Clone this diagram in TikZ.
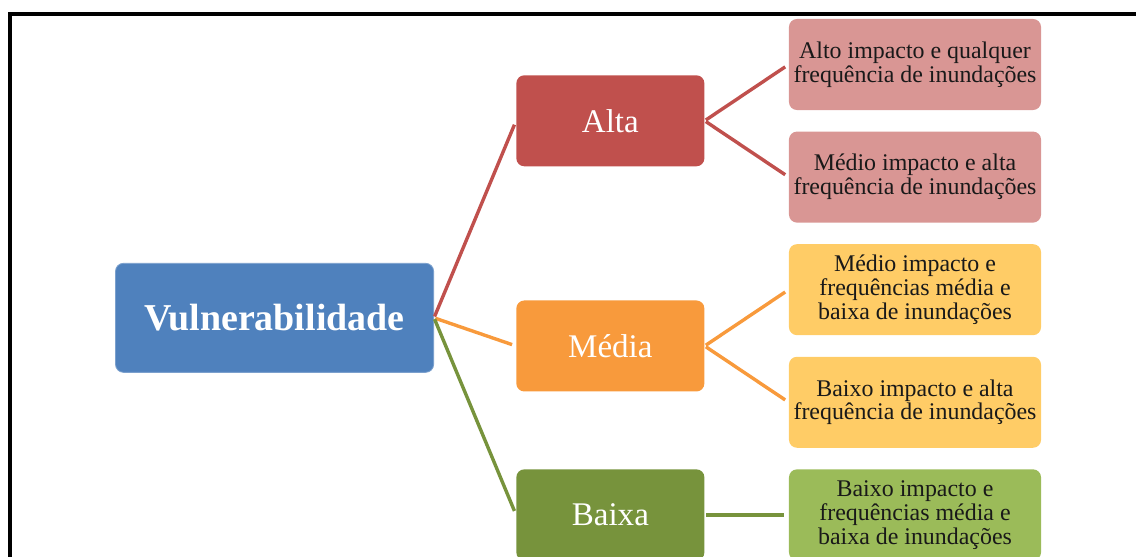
\documentclass[tikz,border=0pt]{standalone}
\usepackage{fontspec}
\setmainfont{Liberation Serif}
\usepackage{xcolor}
\usepackage{tikz}
\usetikzlibrary{positioning, calc}
\definecolor{vulblue}{HTML}{4F81BD}
\definecolor{altared}{HTML}{C0504D}
\definecolor{altaleaf}{HTML}{D99694}
\definecolor{mediaorange}{HTML}{F89A3C}
\definecolor{medialeaf}{HTML}{FFCC66}
\definecolor{baixagreen}{HTML}{77933C}
\definecolor{baixaleaf}{HTML}{9BBB59}
\tikzset{
    vulnmap/.style={x=0.025cm, y=-0.025cm, node distance=0.525cm and 2.1cm},
    rootbox/.style={fill=vulblue, draw=vulblue!75!white, line width=0.6pt, rounded corners=0.2cm,
        minimum width=7.95cm, minimum height=2.725cm, text=white,
        font=\fontsize{27}{30}\selectfont\bfseries},
    levelbox/.style={rounded corners=0.2cm, minimum width=4.7cm, minimum height=2.275cm,
        text=white, font=\fontsize{23.5}{26}\selectfont},
    leafbox/.style={rounded corners=0.2cm, minimum width=6.3cm, minimum height=2.275cm,
        inner sep=0pt, align=center, text=black!90, font=\fontsize{17}{17}\selectfont},
    % branch lines stop just short of the box they lead to
    link/.style={line width=0.085cm, shorten <=1pt, shorten >=3pt},
}

\begin{document}
\begin{tikzpicture}[vulnmap]
    \useasboundingbox (0,0) rectangle (1136,557);
    \draw[line width=0.1cm, line join=miter] (10,570) -- (10,14) -- (1150,14);

    \node[leafbox, fill=altaleaf]                    (alta1)  at (915,64.5) {Alto impacto e qualquer\\frequência de inundações};
    \node[leafbox, fill=altaleaf, below=of alta1]    (alta2)  {Médio impacto e alta\\frequência de inundações};
    \node[leafbox, fill=medialeaf, below=of alta2]   (media1) {Médio impacto e\\frequências média e\\baixa de inundações};
    \node[leafbox, fill=medialeaf, below=of media1]  (media2) {Baixo impacto e alta\\frequência de inundações};
    \node[leafbox, fill=baixaleaf, below=of media2]  (baixa1) {Baixo impacto e\\frequências média e\\baixa de inundações};

    \coordinate (altamid)  at ($(alta1.west)!0.5!(alta2.west)$);
    \coordinate (mediamid) at ($(media1.west)!0.5!(media2.west)$);
    \node[levelbox, fill=altared, left=of altamid]      (alta)  {Alta};
    \node[levelbox, fill=mediaorange, left=of mediamid] (media) {Média};
    \node[levelbox, fill=baixagreen, left=of baixa1]    (baixa) {Baixa};

    \coordinate (rootmid) at ($(alta.west)!0.5!(baixa.west)$);
    \node[rootbox, left=2.05cm of rootmid] (root) {Vulnerabilidade};

    \draw[link, altared]     (root.east) -- (alta.west);
    \draw[link, mediaorange] (root.east) -- (media.west);
    \draw[link, baixagreen]  (root.east) -- (baixa.west);

    \draw[link, altared]     (alta.east) -- (alta1.west);
    \draw[link, altared]     (alta.east) -- (alta2.west);
    \draw[link, mediaorange] (media.east) -- (media1.west);
    \draw[link, mediaorange] (media.east) -- (media2.west);
    \draw[link, baixagreen]  (baixa.east) -- (baixa1.west);
\end{tikzpicture}
\end{document}
